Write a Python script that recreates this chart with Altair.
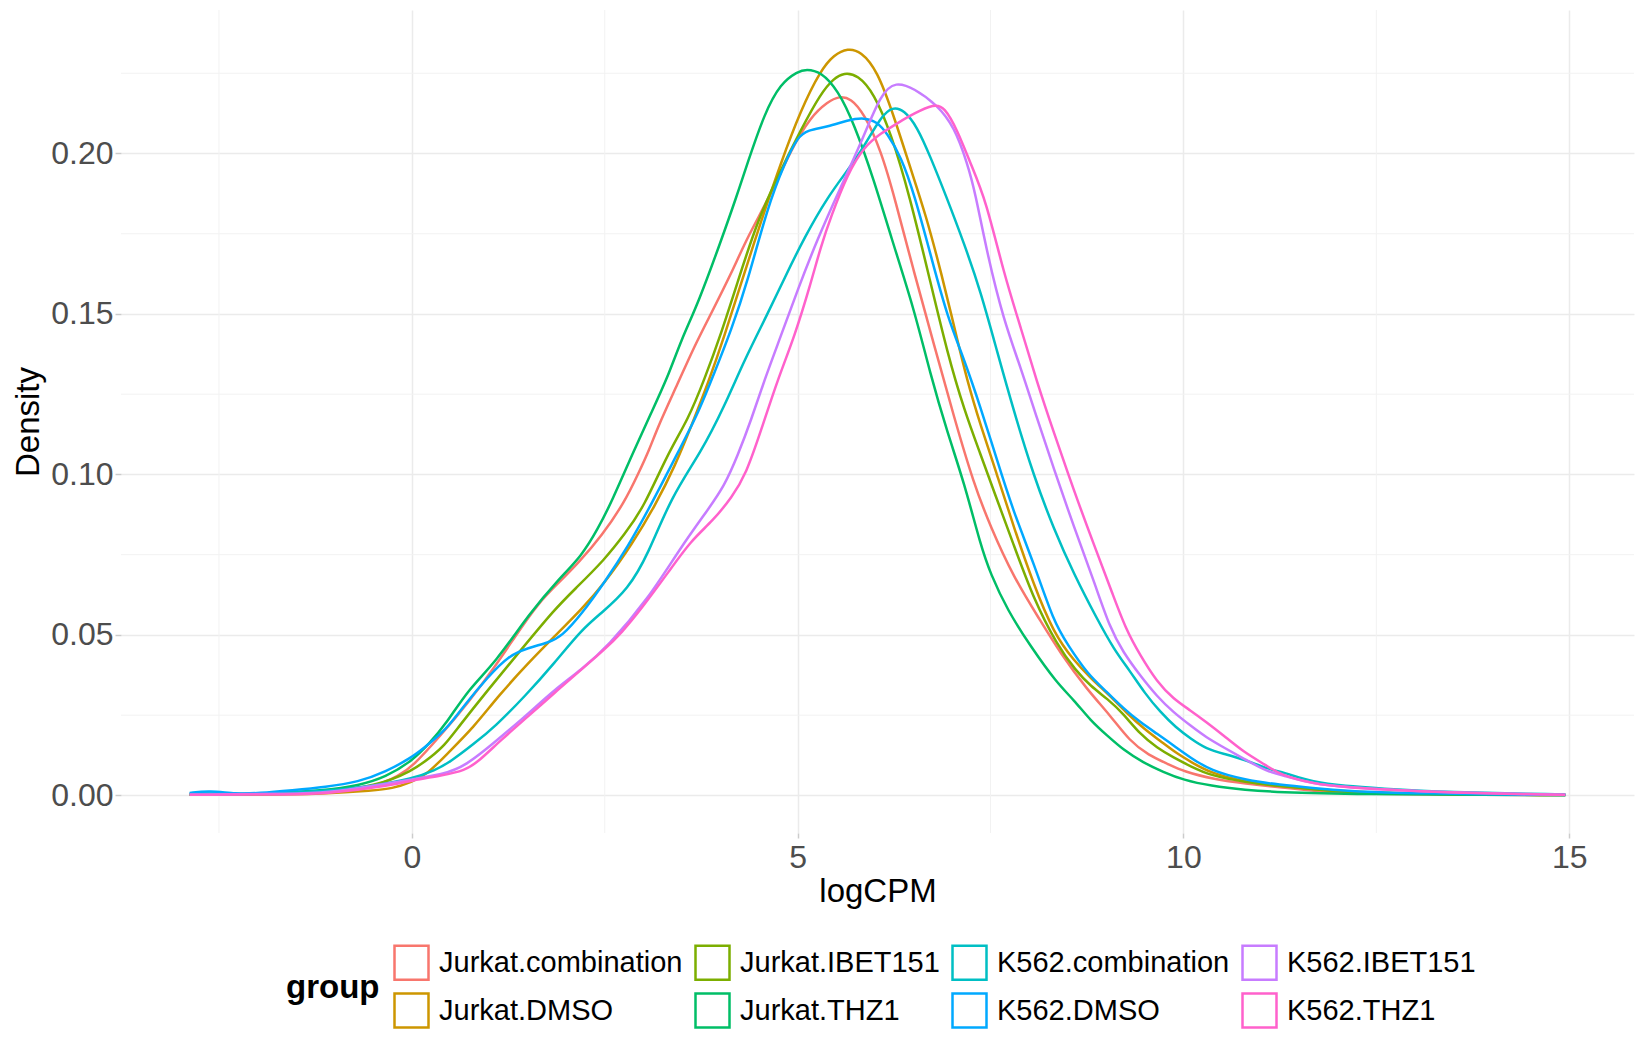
import altair as alt
import pandas as pd

GROUPS = ["Jurkat.combination", "Jurkat.DMSO", "Jurkat.IBET151", "Jurkat.THZ1",
          "K562.combination", "K562.DMSO", "K562.IBET151", "K562.THZ1"]
COLORS = ["#F8766D", "#CD9600", "#7CAE00", "#00BE67",
          "#00BFC4", "#00A9FF", "#C77CFF", "#FF61CC"]
# legend is filled row-wise in Vega, ggplot fills column-wise
LEGEND_ORDER = ["Jurkat.combination", "Jurkat.IBET151", "K562.combination", "K562.IBET151",
                "Jurkat.DMSO", "Jurkat.THZ1", "K562.DMSO", "K562.THZ1"]

jc_x = [-2.88, -2.0, -1.12, -0.47, -0.17, 0.0, 0.37, 0.73, 1.08, 1.34, 1.64, 1.9, 2.16, 2.46, 2.76, 2.93, 3.08, 3.19, 3.45, 3.66, 3.88, 4.14, 4.35, 4.66, 4.91, 5.17, 5.39, 5.54, 5.69, 5.86, 6.08, 6.26, 6.51, 6.77, 7.03, 7.28, 7.5, 7.8, 8.15, 8.4, 8.75, 9.05, 9.3, 9.55, 9.8, 10.0, 10.4, 10.8, 11.25, 11.7, 12.5, 13.5, 14.95]
jc_y = [0.0003, 0.0003, 0.001, 0.0026, 0.0062, 0.0088, 0.0186, 0.0289, 0.0402, 0.0496, 0.060, 0.0662, 0.0725, 0.0808, 0.0915, 0.100, 0.1078, 0.115, 0.1285, 0.1399, 0.1502, 0.1626, 0.174, 0.1875, 0.201, 0.2115, 0.2161, 0.2179, 0.2172, 0.2125, 0.201, 0.186, 0.1628, 0.1402, 0.1176, 0.0973, 0.0837, 0.0679, 0.0543, 0.0445, 0.033, 0.025, 0.017, 0.0125, 0.0098, 0.0075, 0.005, 0.0037, 0.0026, 0.0012, 0.0005, 0.0002, 0.0001]

jd_x = [-2.88, -2.0, -1.12, -0.5, -0.26, 0.0, 0.2, 0.47, 0.8, 1.12, 1.51, 1.85, 2.2, 2.5, 2.86, 3.15, 3.41, 3.62, 3.84, 4.05, 4.27, 4.53, 4.78, 5.04, 5.3, 5.47, 5.65, 5.82, 6.03, 6.25, 6.47, 6.66, 6.87, 7.03, 7.2, 7.37, 7.59, 7.8, 8.06, 8.32, 8.58, 8.8, 9.05, 9.25, 9.5, 9.7, 9.9, 10.1, 10.35, 10.8, 11.25, 11.7, 12.1, 13.0, 14.95]
jd_y = [0.0002, 0.0002, 0.0005, 0.0015, 0.0021, 0.0042, 0.0066, 0.0133, 0.0212, 0.031, 0.0413, 0.0496, 0.058, 0.0662, 0.0785, 0.0902, 0.1026, 0.115, 0.1285, 0.143, 0.1598, 0.1792, 0.1969, 0.2135, 0.226, 0.2307, 0.2328, 0.2318, 0.226, 0.2115, 0.1948, 0.181, 0.162, 0.1459, 0.1289, 0.1154, 0.0995, 0.0837, 0.0656, 0.0505, 0.042, 0.0365, 0.031, 0.026, 0.0205, 0.017, 0.0133, 0.0104, 0.007, 0.0042, 0.003, 0.002, 0.0012, 0.0005, 0.0001]

ji_x = [-2.88, -2.0, -1.12, -0.47, 0.0, 0.26, 0.42, 0.6, 0.99, 1.42, 1.85, 2.11, 2.5, 2.76, 3.0, 3.32, 3.58, 3.79, 4.01, 4.22, 4.48, 4.78, 5.04, 5.3, 5.47, 5.6, 5.78, 5.99, 6.21, 6.45, 6.72, 6.94, 7.16, 7.37, 7.54, 7.8, 8.06, 8.36, 8.6, 8.8, 9.02, 9.22, 9.44, 9.66, 9.87, 10.1, 10.35, 10.8, 11.25, 11.7, 12.1, 13.0, 14.95]
ji_y = [0.0002, 0.0003, 0.0008, 0.0029, 0.0075, 0.0122, 0.0155, 0.0212, 0.033, 0.0455, 0.058, 0.0642, 0.0735, 0.0815, 0.0895, 0.1067, 0.1171, 0.1295, 0.144, 0.1598, 0.1792, 0.1948, 0.2073, 0.2188, 0.2234, 0.2252, 0.2245, 0.2188, 0.2063, 0.187, 0.160, 0.1379, 0.1199, 0.1063, 0.095, 0.0781, 0.0611, 0.047, 0.039, 0.034, 0.030, 0.0255, 0.019, 0.0148, 0.0118, 0.009, 0.0062, 0.0041, 0.0029, 0.0019, 0.001, 0.0005, 0.0001]

jt_x = [-2.88, -1.98, -1.12, -0.69, -0.34, 0.0, 0.22, 0.45, 0.73, 1.08, 1.53, 1.9, 2.2, 2.41, 2.59, 2.87, 3.1, 3.32, 3.49, 3.71, 4.01, 4.2, 4.35, 4.57, 4.78, 5.0, 5.11, 5.3, 5.52, 5.73, 5.99, 6.21, 6.51, 6.72, 6.94, 7.16, 7.37, 7.5, 7.72, 8.02, 8.36, 8.58, 8.8, 9.01, 9.22, 9.48, 9.74, 10.0, 10.35, 10.8, 11.25, 12.1, 14.95]
jt_y = [0.0003, 0.0004, 0.0016, 0.0031, 0.0057, 0.0107, 0.016, 0.0225, 0.033, 0.0413, 0.0569, 0.0673, 0.0746, 0.083, 0.0915, 0.107, 0.1191, 0.1305, 0.1419, 0.1533, 0.173, 0.186, 0.197, 0.2125, 0.2219, 0.2255, 0.2263, 0.2255, 0.2198, 0.2094, 0.1917, 0.174, 0.1515, 0.1312, 0.1131, 0.0973, 0.0781, 0.069, 0.0577, 0.0464, 0.035, 0.0298, 0.0232, 0.0187, 0.0142, 0.0102, 0.0073, 0.0048, 0.003, 0.0017, 0.001, 0.0004, 0.0001]

kc_x = [-2.88, -2.6, -2.2, -1.12, -0.47, 0.0, 0.3, 0.5, 0.8, 1.08, 1.47, 1.85, 2.2, 2.46, 2.8, 3.06, 3.36, 3.75, 4.05, 4.31, 4.61, 4.83, 5.09, 5.39, 5.65, 5.86, 6.08, 6.23, 6.38, 6.55, 6.72, 6.92, 7.16, 7.37, 7.59, 7.8, 8.06, 8.32, 8.58, 8.88, 9.1, 9.3, 9.5, 9.7, 9.9, 10.1, 10.3, 10.52, 10.8, 11.08, 11.3, 11.68, 12.1, 12.54, 13.4, 14.95]
kc_y = [0.0006, 0.0007, 0.0003, 0.0012, 0.0031, 0.0052, 0.0078, 0.0105, 0.016, 0.0215, 0.031, 0.0413, 0.0517, 0.0569, 0.0642, 0.075, 0.093, 0.107, 0.1212, 0.1357, 0.150, 0.1612, 0.174, 0.1865, 0.1948, 0.2021, 0.2115, 0.2146, 0.2135, 0.2083, 0.199, 0.187, 0.1718, 0.1572, 0.1379, 0.1199, 0.0995, 0.083, 0.069, 0.055, 0.0455, 0.039, 0.0318, 0.026, 0.0212, 0.0176, 0.0145, 0.013, 0.0111, 0.0083, 0.0072, 0.0041, 0.0029, 0.0022, 0.001, 0.0003]

kd_x = [-2.88, -2.62, -2.28, -1.98, -1.55, -1.12, -0.69, -0.34, 0.0, 0.13, 0.45, 0.69, 0.99, 1.25, 1.51, 1.77, 1.94, 2.2, 2.5, 2.8, 3.1, 3.49, 3.71, 3.92, 4.14, 4.35, 4.61, 4.83, 5.0, 5.13, 5.39, 5.65, 5.86, 6.03, 6.16, 6.34, 6.51, 6.75, 6.94, 7.16, 7.37, 7.59, 7.8, 8.06, 8.32, 8.5, 8.75, 9.01, 9.22, 9.44, 9.66, 9.87, 10.09, 10.35, 10.8, 11.25, 11.68, 12.1, 13.0, 14.95]
kd_y = [0.0008, 0.0015, 0.0005, 0.0007, 0.0016, 0.0026, 0.0042, 0.0073, 0.0119, 0.0143, 0.0205, 0.0285, 0.037, 0.0435, 0.046, 0.0476, 0.0495, 0.0565, 0.0665, 0.0775, 0.0905, 0.1088, 0.1191, 0.1316, 0.145, 0.160, 0.1833, 0.1969, 0.2052, 0.2073, 0.2083, 0.2104, 0.2112, 0.2099, 0.2063, 0.199, 0.1875, 0.166, 0.1492, 0.1357, 0.121, 0.104, 0.0882, 0.0724, 0.054, 0.047, 0.038, 0.0322, 0.0272, 0.0228, 0.0192, 0.0156, 0.0118, 0.0078, 0.0048, 0.0033, 0.0023, 0.0014, 0.0006, 0.0001]

ki_x = [-2.88, -1.5, -1.12, -0.5, 0.0, 0.39, 0.69, 1.12, 1.51, 1.85, 2.2, 2.54, 3.06, 3.49, 3.84, 4.05, 4.22, 4.4, 4.57, 4.78, 5.0, 5.25, 5.56, 5.82, 6.08, 6.27, 6.51, 6.81, 7.03, 7.2, 7.3, 7.46, 7.67, 7.89, 8.1, 8.32, 8.58, 8.84, 9.05, 9.22, 9.44, 9.66, 9.87, 10.09, 10.3, 10.52, 10.8, 11.08, 11.3, 11.68, 12.1, 13.0, 14.95]
ki_y = [0.0003, 0.0005, 0.0008, 0.003, 0.005, 0.0065, 0.009, 0.0175, 0.0255, 0.033, 0.0392, 0.0465, 0.0611, 0.0775, 0.0891, 0.0964, 0.1057, 0.1171, 0.1295, 0.143, 0.1575, 0.173, 0.1896, 0.2031, 0.2188, 0.2224, 0.2203, 0.2151, 0.2083, 0.1969, 0.188, 0.1684, 0.1481, 0.1334, 0.1176, 0.1018, 0.0837, 0.0668, 0.052, 0.0446, 0.0373, 0.0308, 0.0259, 0.0218, 0.018, 0.015, 0.0112, 0.0075, 0.0062, 0.0036, 0.0026, 0.0012, 0.0002]

kt_x = [-2.88, -1.5, -1.12, -0.26, 0.0, 0.39, 0.69, 0.86, 1.16, 1.51, 1.85, 2.2, 2.5, 2.72, 2.97, 3.32, 3.62, 3.9, 4.15, 4.33, 4.53, 4.74, 4.96, 5.17, 5.3, 5.43, 5.65, 5.86, 6.08, 6.29, 6.51, 6.77, 6.9, 7.07, 7.24, 7.44, 7.67, 7.89, 8.1, 8.32, 8.58, 8.84, 9.09, 9.25, 9.44, 9.66, 9.87, 10.09, 10.3, 10.52, 10.78, 11.08, 11.25, 11.68, 12.11, 12.54, 13.4, 14.95]
kt_y = [0.0002, 0.0003, 0.0005, 0.0031, 0.0047, 0.0062, 0.0078, 0.0105, 0.0174, 0.0247, 0.032, 0.0393, 0.0455, 0.0507, 0.058, 0.0694, 0.0795, 0.0855, 0.093, 0.100, 0.114, 0.1295, 0.143, 0.1595, 0.171, 0.1802, 0.1938, 0.2021, 0.2063, 0.2094, 0.2125, 0.2154, 0.2146, 0.2073, 0.1969, 0.1855, 0.1628, 0.1459, 0.1289, 0.1131, 0.095, 0.0781, 0.0623, 0.052, 0.0436, 0.0353, 0.0301, 0.0265, 0.0228, 0.0187, 0.0135, 0.0093, 0.0065, 0.0036, 0.0026, 0.0019, 0.0008, 0.0002]

X_TICKS = [0, 5, 10, 15]
X_MINOR = [-2.5, 2.5, 7.5, 12.5]
Y_TICKS = [0.0, 0.05, 0.10, 0.15, 0.20]
Y_MINOR = [0.025, 0.075, 0.125, 0.175, 0.225]

series = [(jc_x, jc_y), (jd_x, jd_y), (ji_x, ji_y), (jt_x, jt_y),
          (kc_x, kc_y), (kd_x, kd_y), (ki_x, ki_y), (kt_x, kt_y)]
rows = []
for gi, (g, (xs, ys)) in enumerate(zip(GROUPS, series)):
    for x, y in zip(xs, ys):
        rows.append({"group": g, "logCPM": x, "density": y, "gorder": gi})
df = pd.DataFrame(rows)

FONT = "Liberation Sans"
xscale = alt.Scale(domain=[-3.77, 15.84], nice=False, zero=False)
yscale = alt.Scale(domain=[-0.0117, 0.2447], nice=False, zero=False)
color_map = dict(zip(GROUPS, COLORS))

X_AXIS = alt.Axis(
    values=X_TICKS, title="logCPM", grid=True, gridColor="#EBEBEB", gridWidth=1.5,
    domain=False, ticks=True, tickSize=5, tickColor="#CCCCCC", tickWidth=1.5,
    labelFontSize=32, labelColor="#4D4D4D", labelFont=FONT, labelPadding=4,
    labelFlush=False, titleFontSize=33, titleFont=FONT, titleColor="black",
    titleFontWeight="normal", titlePadding=2)
Y_AXIS = alt.Axis(
    values=Y_TICKS, format=".2f", title="Density", grid=True, gridColor="#EBEBEB",
    gridWidth=1.5, domain=False, ticks=True, tickSize=6, tickColor="#CCCCCC",
    tickWidth=1.5, labelFontSize=32, labelColor="#4D4D4D", labelFont=FONT,
    labelPadding=2, labelFlush=False, titleFontSize=33, titleFont=FONT,
    titleColor="black", titleFontWeight="normal", titlePadding=5)

minor_x = alt.Chart(pd.DataFrame({"logCPM": X_MINOR})).mark_rule(
    color="#F2F2F2", strokeWidth=1.0
).encode(x=alt.X("logCPM:Q", scale=xscale, axis=X_AXIS))

minor_y = alt.Chart(pd.DataFrame({"density": Y_MINOR})).mark_rule(
    color="#F2F2F2", strokeWidth=1.0
).encode(y=alt.Y("density:Q", scale=yscale, axis=Y_AXIS))

lines = alt.Chart(df).mark_line(
    interpolate="basis", strokeWidth=2.5, clip=True
).encode(
    x=alt.X("logCPM:Q", scale=xscale, axis=X_AXIS),
    y=alt.Y("density:Q", scale=yscale, axis=Y_AXIS),
    color=alt.Color("group:N", scale=alt.Scale(
        domain=LEGEND_ORDER, range=[color_map[g] for g in LEGEND_ORDER]),
        legend=alt.Legend(
            orient="none", legendX=165, legendY=934, direction="horizontal", columns=4,
            title="group", titleOrient="left", titleAnchor="middle",
            titleFontSize=33, titleFont=FONT, titleFontWeight="bold", titleColor="black",
            titlePadding=13, labelFontSize=29, labelFont=FONT, labelColor="black",
            labelOffset=9, labelLimit=500, columnPadding=7, rowPadding=3,
            symbolType="square", symbolSize=1156, symbolStrokeWidth=2.5,
            symbolFillColor="white")),
    detail="gorder:O",
    order="gorder:O",
)

chart = alt.layer(minor_x, minor_y, lines).properties(
    width=1513, height=823,
    autosize=alt.AutoSizeParams(type="none"),
    padding={"left": 113, "top": 2, "right": 8, "bottom": 200},
    background="white",
).configure_view(stroke=None)

chart.save("out.html", embed_options={"renderer": "svg", "actions": False})
